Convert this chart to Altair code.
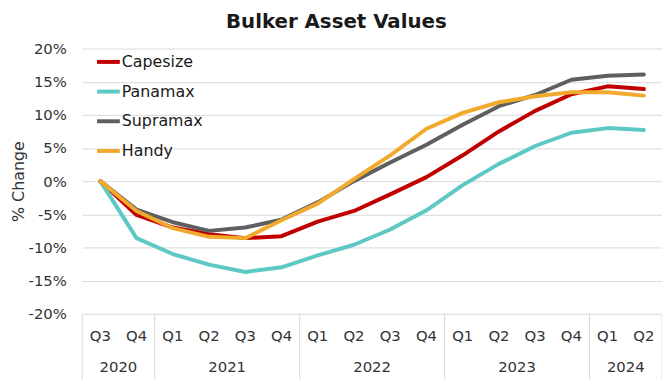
import altair as alt
import pandas as pd

# ---- data ----
quarters = ["Q3", "Q4", "Q1", "Q2", "Q3", "Q4", "Q1", "Q2", "Q3", "Q4",
            "Q1", "Q2", "Q3", "Q4", "Q1", "Q2"]
quarter_years = ["2020", "2020", "2021", "2021", "2021", "2021", "2022", "2022",
                 "2022", "2022", "2023", "2023", "2023", "2023", "2024", "2024"]
years = ["2020", "2021", "2022", "2023", "2024"]

series_names = ["Capesize", "Panamax", "Supramax", "Handy"]
series_colors = ["#C00000", "#5EC8C4", "#5F5F5F", "#F2AA2E"]

capesize = [0, -5.1, -7.0, -8.0, -8.6, -8.3, -6.1, -4.5, -2.0, 0.6, 3.9, 7.5, 10.6, 13.1, 14.3, 13.9]
panamax = [0, -8.6, -11.0, -12.6, -13.7, -13.0, -11.2, -9.6, -7.3, -4.4, -0.6, 2.6, 5.3, 7.3, 8.0, 7.7]
supramax = [0, -4.3, -6.2, -7.5, -7.0, -5.8, -3.2, 0.0, 2.8, 5.5, 8.5, 11.3, 13.0, 15.3, 15.9, 16.1]
handy = [0, -4.5, -7.1, -8.4, -8.6, -5.9, -3.4, 0.3, 3.9, 7.9, 10.3, 11.9, 12.8, 13.4, 13.4, 12.9]

y_ticks = [-20, -15, -10, -5, 0, 5, 10, 15, 20]

FONT = "DejaVu Sans"
W, H = 586, 268

# ---- tables ----
rows = []
for name, vals in zip(series_names, [capesize, panamax, supramax, handy]):
    for i, v in enumerate(vals):
        rows.append({"series": name, "pos": i + 0.5, "value": v})
lines_df = pd.DataFrame(rows)

q_df = pd.DataFrame({"pos": [i + 0.5 for i in range(len(quarters))], "label": quarters})

year_rows = []
bounds = [0]
for y in years:
    idx = [i for i, qy in enumerate(quarter_years) if qy == y]
    start, end = min(idx), max(idx) + 1
    year_rows.append({"pos": (start + end) / 2, "label": y})
    bounds.append(end)
y_df = pd.DataFrame(year_rows)
sep_df = pd.DataFrame({"pos": bounds})

xscale = alt.Scale(domain=[0, len(quarters)], nice=False, zero=False)
yscale = alt.Scale(domain=[-20, 20], nice=False)

lines = alt.Chart(lines_df).mark_line(strokeWidth=4, strokeJoin="round", strokeCap="round").encode(
    x=alt.X("pos:Q", scale=xscale, axis=None),
    y=alt.Y("value:Q", scale=yscale,
            axis=alt.Axis(values=y_ticks, labelExpr="datum.value + '%'", domain=False, ticks=False,
                          grid=True, gridColor="#D9D9D9", gridWidth=1,
                          labelFont=FONT, labelFontSize=15, labelColor="#333333", labelPadding=16,
                          title="% Change", titleFont=FONT, titleFontSize=16, titleFontWeight="normal",
                          titleColor="#333333", titlePadding=2)),
    color=alt.Color("series:N", scale=alt.Scale(domain=series_names, range=series_colors),
                    legend=alt.Legend(title=None, orient="none", legendX=13, legendY=0,
                                      symbolType="stroke", symbolStrokeWidth=4, symbolSize=529,
                                      labelFont=FONT, labelFontSize=16, labelColor="#1a1a1a",
                                      labelOffset=0, rowPadding=8)),
)

seps = alt.Chart(sep_df).mark_rule(color="#D9D9D9", strokeWidth=1).encode(
    x=alt.X("pos:Q", scale=xscale, axis=None),
    y=alt.value(H),
    y2=alt.value(H + 70),
)

qtext = alt.Chart(q_df).mark_text(font=FONT, fontSize=15, color="#333333", baseline="middle").encode(
    x=alt.X("pos:Q", scale=xscale, axis=None),
    y=alt.value(H + 23),
    text="label:N",
)

ytext = alt.Chart(y_df).mark_text(font=FONT, fontSize=15, color="#333333", baseline="middle").encode(
    x=alt.X("pos:Q", scale=xscale, axis=None),
    y=alt.value(H + 54),
    text="label:N",
)

chart = alt.layer(seps, lines, qtext, ytext).properties(
    width=W,
    height=H,
    title=alt.TitleParams("Bulker Asset Values", font=FONT, fontSize=20, fontWeight="bold",
                          color="#1a1a1a", anchor="middle", frame="bounds", offset=10),
    autosize=alt.AutoSizeParams(type="none"),
    padding={"left": 75, "top": 39, "right": 0, "bottom": 64},
).configure_view(stroke=None)

chart.save("out.html", embed_options={"renderer": "svg", "actions": False})
